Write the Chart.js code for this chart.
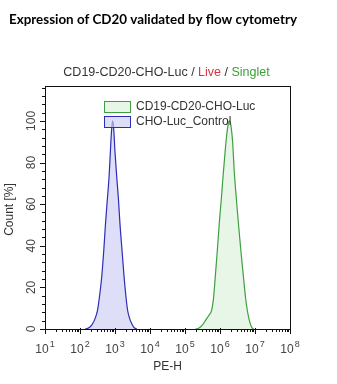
<!DOCTYPE html>
<html>
<head>
<meta charset="utf-8">
<script src="https://cdn.jsdelivr.net/npm/chart.js@4/dist/chart.umd.min.js"></script>
<style>
html,body{margin:0;padding:0;background:#fff;}
#c{display:block;}
</style>
</head>
<body>
<canvas id="c" width="337" height="384"></canvas>
<script>
// ---- data (x = log10 of PE-H, y = Count %) ----
const pageTitle = "Expression of CD20 validated by flow cytometry";
const plotTitleParts = ["CD19-CD20-CHO-Luc", " / ", "Live", " / ", "Singlet"];
const seriesNames = ["CD19-CD20-CHO-Luc", "CHO-Luc_Control"];
const xTickExponents = [1, 2, 3, 4, 5, 6, 7, 8];
const yTickLabels = [0, 20, 40, 60, 80, 100];
const xAxisTitle = "PE-H";
const yAxisTitle = "Count [%]";

const greenLogX = [5.30,5.40,5.50,5.60,5.70,5.76,5.81,5.86,5.92,5.98,6.04,6.09,6.14,6.19,6.23,6.27,6.31,6.36,6.41,6.47,6.53,6.60,6.67,6.73,6.78,6.84,6.90,6.96];
const greenCount = [0,0.5,2,4.5,7,9,14,24,37,51,63,74,84,93,98,100,98,90,75,62,50,37,25,15,9,4,1,0];

const blueLogX = [2.15,2.22,2.30,2.36,2.43,2.50,2.56,2.62,2.68,2.73,2.78,2.83,2.87,2.90,2.93,2.96,3.00,3.05,3.10,3.14,3.20,3.26,3.31,3.36,3.42,3.48,3.54,3.62];
const blueCount = [0,0.3,1.2,2.5,5,9,16,25,38,51,62,73,86,95,100,97,85,73,62,51,38,25,16,9,5,2.5,0.8,0];

const toPoints = (xs, ys) => xs.map((x, i) => ({x: x, y: ys[i]}));

const SANS = '"Liberation Sans", Arial, sans-serif';

const drawPlugin = {
  id: 'flowDecor',
  afterDatasetsDraw(chart) {
    const ctx = chart.ctx;
    const a = chart.chartArea;
    const xs = chart.scales.x, ys = chart.scales.y;
    ctx.save();
    // frame
    ctx.strokeStyle = '#111';
    ctx.lineWidth = 1;
    ctx.strokeRect(Math.round(a.left) + 0.5, Math.round(a.top) + 0.5, Math.round(a.right - a.left), Math.round(a.bottom - a.top));
    // y axis ticks (major every 20, minor every 4)
    ctx.beginPath();
    for (let v = 0; v <= ys.max; v += 4) {
      const py = Math.round(ys.getPixelForValue(v)) + 0.5;
      const major = v % 20 === 0;
      ctx.moveTo(a.left - (major ? 5 : 3), py);
      ctx.lineTo(a.left + (major ? 1 : 0), py);
    }
    // x axis ticks (log decades, minor 2..9)
    for (let d = xs.min; d <= xs.max; d++) {
      const px = Math.round(xs.getPixelForValue(d)) + 0.5;
      ctx.moveTo(px, a.bottom - 1);
      ctx.lineTo(px, a.bottom + 5);
      if (d < xs.max) {
        for (let m = 2; m <= 9; m++) {
          const pm = Math.round(xs.getPixelForValue(d + Math.log10(m))) + 0.5;
          ctx.moveTo(pm, a.bottom);
          ctx.lineTo(pm, a.bottom + 3);
        }
      }
    }
    ctx.stroke();

    // y tick labels (rotated)
    ctx.fillStyle = '#444';
    ctx.font = '12px ' + SANS;
    ctx.textAlign = 'center';
    ctx.textBaseline = 'middle';
    yTickLabels.forEach(v => {
      const py = ys.getPixelForValue(v);
      ctx.save();
      ctx.translate(a.left - 13, py);
      ctx.rotate(-Math.PI / 2);
      ctx.fillText(String(v), 0, 0);
      ctx.restore();
    });
    // x tick labels 10^n
    xTickExponents.forEach(e => {
      const px = xs.getPixelForValue(e);
      ctx.font = '12px ' + SANS;
      const w1 = ctx.measureText('10').width;
      ctx.font = '9px ' + SANS;
      const w2 = ctx.measureText(String(e)).width;
      const start = px - (w1 + 1 + w2) / 2;
      ctx.textAlign = 'left';
      ctx.textBaseline = 'alphabetic';
      ctx.font = '12px ' + SANS;
      ctx.fillText('10', start, a.bottom + 24);
      ctx.font = '9px ' + SANS;
      ctx.fillText(String(e), start + w1 + 1, a.bottom + 18);
    });
    // axis titles
    ctx.fillStyle = '#333';
    ctx.font = '12px ' + SANS;
    ctx.textAlign = 'center';
    ctx.textBaseline = 'middle';
    ctx.fillText(xAxisTitle, (a.left + a.right) / 2, a.bottom + 38);
    ctx.save();
    ctx.translate(10, (a.top + a.bottom) / 2 + 2);
    ctx.rotate(-Math.PI / 2);
    ctx.fillText(yAxisTitle, 0, 0);
    ctx.restore();

    // plot title with coloured parts
    const partColors = ['#333', '#333', '#e0303a', '#333', '#3aa03a'];
    ctx.font = '12.5px ' + SANS;
    const widths = plotTitleParts.map(p => ctx.measureText(p).width);
    const total = widths.reduce((s, w) => s + w, 0);
    let tx = (a.left + a.right) / 2 - total / 2 - 1;
    ctx.textAlign = 'left';
    ctx.textBaseline = 'middle';
    plotTitleParts.forEach((p, i) => {
      ctx.fillStyle = partColors[i];
      ctx.fillText(p, tx, a.top - 13);
      tx += widths[i];
    });

    // page title
    ctx.fillStyle = '#000';
    ctx.font = 'bold 13.4px Lato, "Open Sans", sans-serif';
    ctx.textAlign = 'left';
    ctx.fillText(pageTitle, 9, 20);

    // legend inside plot
    const lx = 104, ly = [101, 116];
    chart.data.datasets.forEach((ds, i) => {
      ctx.fillStyle = ds.backgroundColor;
      ctx.fillRect(lx, ly[i], 26, 11);
      ctx.strokeStyle = ds.borderColor;
      ctx.lineWidth = 1;
      ctx.strokeRect(lx + 0.5, ly[i] + 0.5, 26, 11);
      ctx.fillStyle = '#333';
      ctx.font = '12px ' + SANS;
      ctx.textBaseline = 'middle';
      ctx.fillText(ds.label, lx + 32, ly[i] + 6);
    });
    ctx.restore();
  }
};

new Chart(document.getElementById('c'), {
  type: 'line',
  data: {
    datasets: [
      {
        label: seriesNames[0],
        data: toPoints(greenLogX, greenCount),
        borderColor: '#3f9f3f',
        backgroundColor: 'rgba(215,240,215,0.6)',
        borderWidth: 1.2,
        fill: 'origin',
        pointRadius: 0,
        cubicInterpolationMode: 'monotone'
      },
      {
        label: seriesNames[1],
        data: toPoints(blueLogX, blueCount),
        borderColor: '#2d2db8',
        backgroundColor: 'rgba(205,205,245,0.65)',
        borderWidth: 1.2,
        fill: 'origin',
        pointRadius: 0,
        cubicInterpolationMode: 'monotone'
      }
    ]
  },
  options: {
    responsive: false,
    animation: false,
    events: [],
    layout: { padding: { left: 45, right: 47, top: 86, bottom: 55 } },
    plugins: { legend: { display: false }, tooltip: { enabled: false }, title: { display: false } },
    scales: {
      x: { type: 'linear', min: 1, max: 8, display: false },
      y: { type: 'linear', min: 0, max: 116.8, display: false }
    }
  },
  plugins: [drawPlugin]
});
</script>
</body>
</html>
